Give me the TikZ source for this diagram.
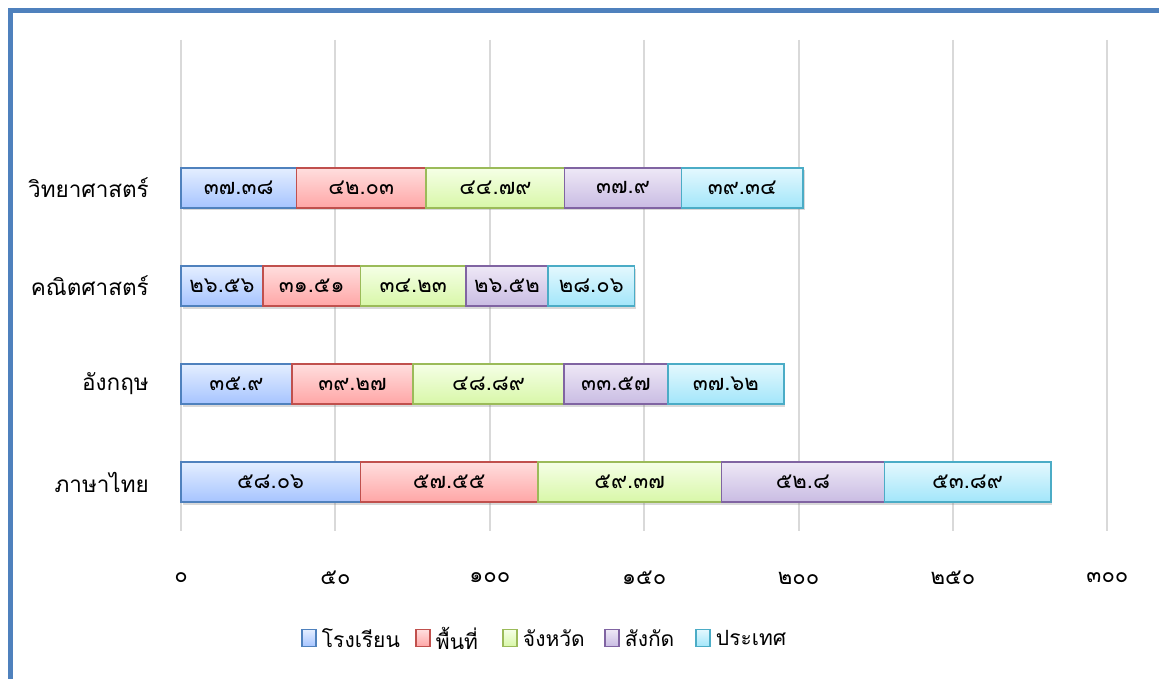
\documentclass[tikz,border=0pt]{standalone}
\usepackage{fontspec}
\newfontfamily\thaifont[Script=Thai]{Loma}
\usetikzlibrary{positioning, shadows}

\definecolor{frameblue}{HTML}{4F81BD}
\definecolor{gridgray}{HTML}{D9D9D9}
\definecolor{bluedraw}{HTML}{4F81BD}
\definecolor{reddraw}{HTML}{C0504D}
\definecolor{greendraw}{HTML}{9BBB59}
\definecolor{purpledraw}{HTML}{8064A2}
\definecolor{cyandraw}{HTML}{4BACC6}
\definecolor{bluetop}{HTML}{E4EEFF}
\definecolor{bluebot}{HTML}{A6C4FF}
\definecolor{redtop}{HTML}{FFDEDE}
\definecolor{redbot}{HTML}{FFA6A6}
\definecolor{greentop}{HTML}{F5FFE6}
\definecolor{greenbot}{HTML}{D8F7A8}
\definecolor{purpletop}{HTML}{EEE8F6}
\definecolor{purplebot}{HTML}{C9BCE3}
\definecolor{cyantop}{HTML}{E4F8FE}
\definecolor{cyanbot}{HTML}{A2E6FA}

\tikzset{
  lbl/.style={font=\thaifont\fontsize{21}{25}\selectfont, inner sep=0pt},
  cat/.style={font=\thaifont\fontsize{22.5}{26}\selectfont, inner sep=0pt},
  num/.style={font=\thaifont\fontsize{22}{26}\selectfont},
  bar/.style={num, minimum height=40pt, inner sep=0pt, outer sep=0pt, line width=1.5pt,
    drop shadow={opacity=.3, shadow xshift=1.5pt, shadow yshift=-2.5pt}},
  val/.style={minimum width={#1*3.088pt}},
  sblue/.style={draw=bluedraw, top color=bluetop, bottom color=bluebot},
  sred/.style={draw=reddraw, top color=redtop, bottom color=redbot},
  sgreen/.style={draw=greendraw, top color=greentop, bottom color=greenbot},
  spurple/.style={draw=purpledraw, top color=purpletop, bottom color=purplebot},
  scyan/.style={draw=cyandraw, top color=cyantop, bottom color=cyanbot},
  key/.style={minimum width=14pt, minimum height=17pt, inner sep=0pt, line width=1.5pt},
  gridline/.style={gridgray, line width=2pt}
}

\begin{document}
\begin{tikzpicture}[x=1pt, y=-1pt]
  \useasboundingbox (0,0) rectangle (1159,679);

  % frame
  \draw[frameblue, line width=5pt] (10.5,690) -- (10.5,11) -- (1170,11);

  % grid and axis
  \foreach \v/\t in {0/๐, 50/๕๐, 100/๑๐๐, 150/๑๕๐, 200/๒๐๐, 250/๒๕๐, 300/๓๐๐} {
    \draw[gridline] ({181+\v*3.088},40) -- ({181+\v*3.088},531);
    \node[num] (tick\v) at ({181+\v*3.088},578) {\t};
  }

  % วิทยาศาสตร์
  \node[bar, sblue, val=37.38, anchor=west] (sci1) at (181,188) {๓๗.๓๘};
  \node[bar, sred, val=42.03, right=0pt of sci1] (sci2) {๔๒.๐๓};
  \node[bar, sgreen, val=44.79, right=0pt of sci2] (sci3) {๔๔.๗๙};
  \node[bar, spurple, val=37.9, right=0pt of sci3] (sci4) {๓๗.๙};
  \node[bar, scyan, val=39.34, right=0pt of sci4] (sci5) {๓๙.๓๔};

  % คณิตศาสตร์
  \node[bar, sblue, val=26.56, anchor=west] (math1) at (181,286) {๒๖.๕๖};
  \node[bar, sred, val=31.51, right=0pt of math1] (math2) {๓๑.๕๑};
  \node[bar, sgreen, val=34.23, right=0pt of math2] (math3) {๓๔.๒๓};
  \node[bar, spurple, val=26.52, right=0pt of math3] (math4) {๒๖.๕๒};
  \node[bar, scyan, val=28.06, right=0pt of math4] (math5) {๒๘.๐๖};

  % อังกฤษ
  \node[bar, sblue, val=35.9, anchor=west] (eng1) at (181,384) {๓๕.๙};
  \node[bar, sred, val=39.27, right=0pt of eng1] (eng2) {๓๙.๒๗};
  \node[bar, sgreen, val=48.89, right=0pt of eng2] (eng3) {๔๘.๘๙};
  \node[bar, spurple, val=33.57, right=0pt of eng3] (eng4) {๓๓.๕๗};
  \node[bar, scyan, val=37.62, right=0pt of eng4] (eng5) {๓๗.๖๒};

  % ภาษาไทย
  \node[bar, sblue, val=58.06, anchor=west] (thai1) at (181,482) {๕๘.๐๖};
  \node[bar, sred, val=57.55, right=0pt of thai1] (thai2) {๕๗.๕๕};
  \node[bar, sgreen, val=59.37, right=0pt of thai2] (thai3) {๕๙.๓๗};
  \node[bar, spurple, val=52.8, right=0pt of thai3] (thai4) {๕๒.๘};
  \node[bar, scyan, val=53.89, right=0pt of thai4] (thai5) {๕๓.๘๙};

  % categories
  \node[cat, anchor=east] (csci) at (149,188) {วิทยาศาสตร์};
  \node[cat, anchor=east] (cmath) at (149,286) {คณิตศาสตร์};
  \node[cat, anchor=east] (ceng) at (149,384) {อังกฤษ};
  \node[cat, anchor=east] (cthai) at (149,482) {ภาษาไทย};

  % legend
  \node[key, sblue] (key1) at (309,638) {};
  \node[lbl, right=5pt of key1] (leg1) {โรงเรียน};
  \node[key, sred] (key2) at (423,638) {};
  \node[lbl, right=5pt of key2] (leg2) {พื้นที่};
  \node[key, sgreen] (key3) at (510,638) {};
  \node[lbl, right=5pt of key3] (leg3) {จังหวัด};
  \node[key, spurple] (key4) at (612,638) {};
  \node[lbl, right=5pt of key4] (leg4) {สังกัด};
  \node[key, scyan] (key5) at (703,638) {};
  \node[lbl, right=5pt of key5] (leg5) {ประเทศ};
\end{tikzpicture}
\end{document}
